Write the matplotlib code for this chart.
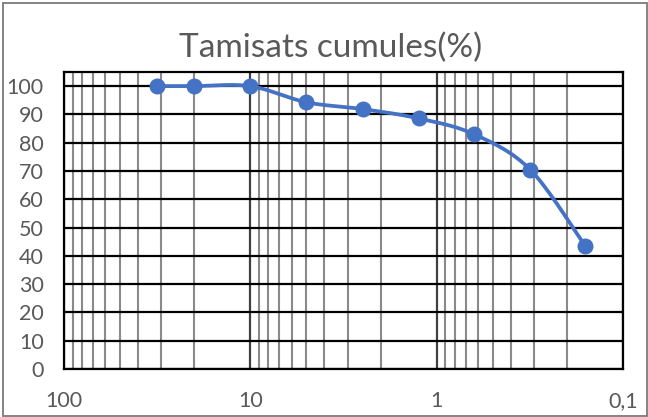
import numpy as np
import matplotlib
matplotlib.use("Agg")
import matplotlib.pyplot as plt
from matplotlib.patches import Rectangle
from matplotlib.ticker import FixedLocator, FixedFormatter, NullFormatter

# Sieve openings (mm) and cumulative passing (%)
sieve_mm = [31.5, 20, 10, 5, 2.5, 1.25, 0.63, 0.315, 0.16]
passing_pct = [100, 100, 100, 94.3, 91.9, 88.6, 83.0, 70.5, 43.6]

x_ticks = [100, 10, 1, 0.1]
x_labels = ["100", "10", "1", "0,1"]
y_ticks = list(range(0, 101, 10))

title_text = "Tamisats cumules(%)"

BLUE = "#4472C4"
GREY_TXT = "#595959"

plt.rcParams["font.family"] = ["Lato", "DejaVu Sans"]

W, H, DPI = 648, 417, 100
fig = plt.figure(figsize=(W / DPI, H / DPI), dpi=DPI)
fig.patch.set_facecolor("white")

# Plot area in pixels
left, right, top, bottom = 64, 623, 72, 369
ax = fig.add_axes([left / W, 1 - bottom / H, (right - left) / W, (bottom - top) / H])

ax.set_xscale("log")
ax.set_xlim(100, 0.1)
ax.set_ylim(0, 105)

# Grid: minor decades in grey, majors darker
minor = [m * 10.0 ** e for e in (-1, 0, 1) for m in range(2, 10)]
ax.xaxis.set_major_locator(FixedLocator(x_ticks))
ax.xaxis.set_major_formatter(FixedFormatter(x_labels))
ax.xaxis.set_minor_locator(FixedLocator(minor))
ax.xaxis.set_minor_formatter(NullFormatter())
ax.set_yticks(y_ticks)

for v in minor:
    ax.axvline(v, color="#8a8a8a", lw=1.5, zorder=1)
for v in x_ticks:
    ax.axvline(v, color="#404040", lw=1.6, zorder=1.2)
for v in y_ticks:
    ax.axhline(v, color="black", lw=1.6, zorder=1.5)

ax.tick_params(axis="both", which="both", length=0, labelsize=15.5,
               labelcolor=GREY_TXT)
ax.tick_params(axis="x", pad=16)
ax.tick_params(axis="y", pad=14.5)
for s in ax.spines.values():
    s.set_color("black")
    s.set_linewidth(1.6)

# Smoothed curve (cubic Bezier through the points, Catmull-Rom tangents)
lx = np.log10(sieve_mm)
py = np.array(passing_pct, dtype=float)
P = np.column_stack([lx, py])
n = len(P)
curve = []
t = np.linspace(0, 1, 30)
for i in range(n - 1):
    p0 = P[i - 1] if i > 0 else P[i]
    p1, p2 = P[i], P[i + 1]
    p3 = P[i + 2] if i + 2 < n else P[i + 1]
    c1 = p1 + (p2 - p0) / 6
    c2 = p2 - (p3 - p1) / 6
    seg = ((1 - t) ** 3)[:, None] * p1 + (3 * (1 - t) ** 2 * t)[:, None] * c1 \
        + (3 * (1 - t) * t ** 2)[:, None] * c2 + (t ** 3)[:, None] * p2
    curve.append(seg)
curve = np.vstack(curve)
ax.plot(10 ** curve[:, 0], curve[:, 1], color=BLUE, lw=2.7, zorder=3,
        solid_capstyle="round")
ax.plot(sieve_mm, passing_pct, "o", color=BLUE, ms=10.5, zorder=4)

fig.text(331 / W, 1 - 57 / H, title_text, ha="center",
         va="baseline", fontsize=24, color=GREY_TXT)

# Chart-area border
fig.patches.append(Rectangle((2.5 / W, 1.5 / H), (W - 4) / W, (H - 4) / H,
                             transform=fig.transFigure, fill=False,
                             edgecolor="#7a7a7a", lw=1.3))

fig.savefig("out.png", dpi=DPI, facecolor="white")
